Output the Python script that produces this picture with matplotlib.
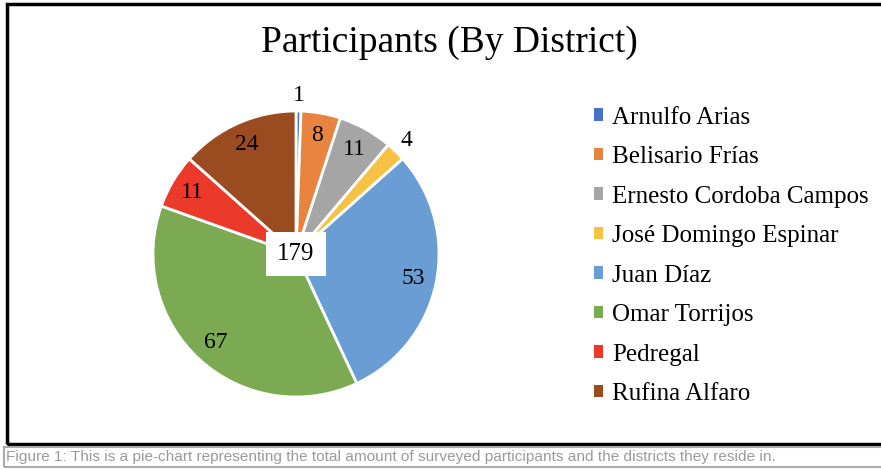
import matplotlib
matplotlib.use("Agg")
import matplotlib.pyplot as plt
import numpy as np
from matplotlib.patches import Patch, Rectangle

# data
districts = ["Arnulfo Arias", "Belisario Frías", "Ernesto Cordoba Campos",
             "José Domingo Espinar", "Juan Díaz", "Omar Torrijos",
             "Pedregal", "Rufina Alfaro"]
participants = [1, 8, 11, 4, 53, 67, 11, 24]
colors = ["#4472C4", "#E8843F", "#A5A5A5", "#F7C244",
          "#6A9DD3", "#7BAA53", "#EC3A2A", "#9A4B1F"]

title = "Participants (By District)"
caption = ("Figure 1: This is a pie-chart representing the total amount of "
           "surveyed participants and the districts they reside in.")

W, H = 881, 469
fig = plt.figure(figsize=(W / 100, H / 100), dpi=100)
serif = "Liberation Serif"


def fx(x):
    return x / W


def fy(y):
    return 1 - y / H


# outer chart frame and caption box
fig.add_artist(Rectangle((fx(7), fy(444)), fx(900) - fx(7), fy(4) - fy(444),
                         transform=fig.transFigure, fill=False,
                         edgecolor="black", linewidth=2.5))
fig.add_artist(Rectangle((fx(4), fy(467)), fx(900) - fx(4), fy(447) - fy(467),
                         transform=fig.transFigure, fill=False,
                         edgecolor="#AAAAAA", linewidth=1.5))
fig.text(fx(6), fy(457), caption, fontsize=11.1, color="#9A9A9A",
         family="Liberation Sans", va="center", ha="left")

fig.text(fx(449), fy(43), title, fontsize=27, family=serif,
         ha="center", va="center")

# pie
R = 143
ax = fig.add_axes([fx(296 - R), fy(254 + R), fx(2 * R), (2 * R) / H])
wedges, _ = ax.pie(participants, colors=colors, startangle=90,
                   counterclock=False,
                   wedgeprops=dict(edgecolor="white", linewidth=2))
ax.set_xlim(-1, 1)
ax.set_ylim(-1, 1)

total = sum(participants)
for w, v in zip(wedges, participants):
    ang = np.deg2rad((w.theta1 + w.theta2) / 2)
    r = 1.11 if v < 5 else 0.84
    ax.text(r * np.cos(ang), r * np.sin(ang), str(v), ha="center",
            va="center", fontsize=17, family=serif)

ax.text(0, 0, str(total), ha="center", va="center", fontsize=18,
        family=serif,
        bbox=dict(facecolor="white", edgecolor="none", pad=8))

# legend
handles = [Patch(facecolor=c, edgecolor="none") for c in colors]
fig.legend(handles, districts, loc="upper left",
           bbox_to_anchor=(fx(571), fy(84)), frameon=False,
           prop=dict(family=serif, size=18), handlelength=0.38,
           handleheight=0.38, handletextpad=0.35, labelspacing=0.7)

fig.savefig("out.png", dpi=100)
